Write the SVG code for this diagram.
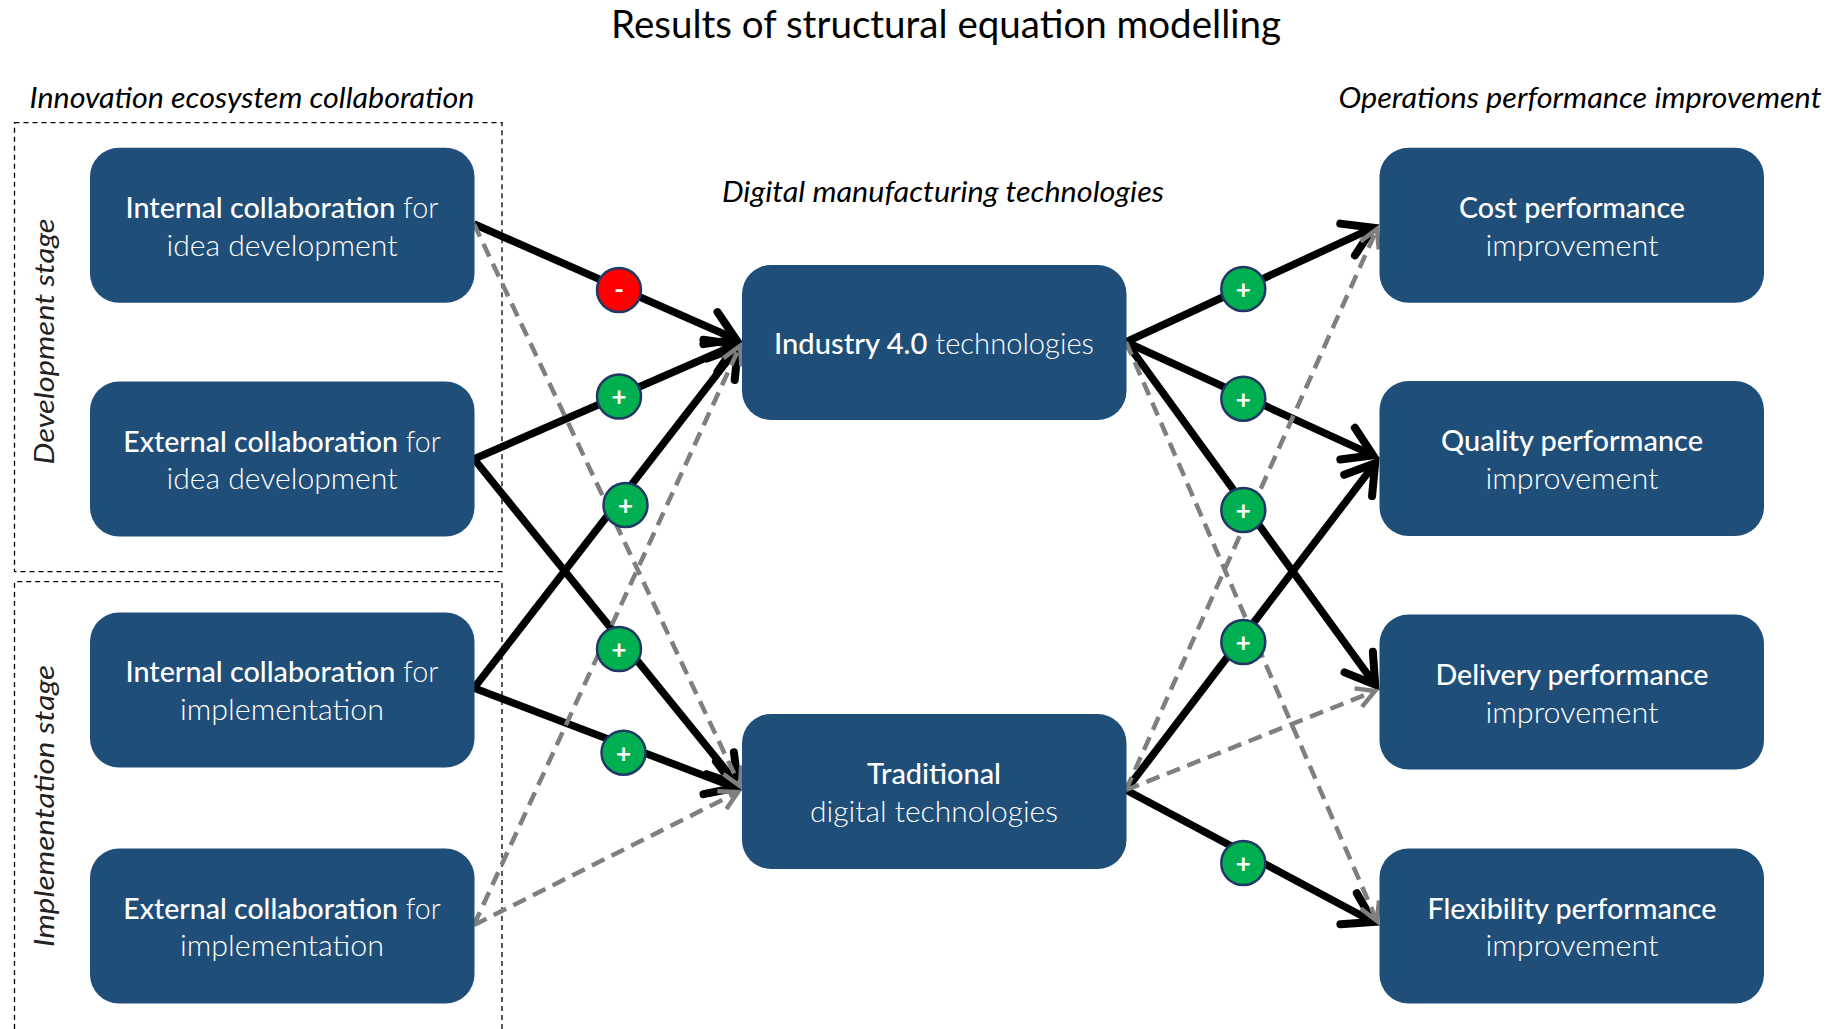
<svg xmlns="http://www.w3.org/2000/svg" width="1835" height="1029" viewBox="0 0 1835 1029">
<style>
text{font-family:Lato,"Liberation Sans",sans-serif}
.box{fill:#1f4e79}
.t{font-size:29px;fill:#fff;text-anchor:middle;font-weight:300}
.e{font-size:28.5px}
.b{font-weight:500}
.h{font-size:29px;fill:#000;font-style:italic;text-anchor:middle}
.s{font-size:27px;fill:#222;font-style:italic;font-weight:400;text-anchor:middle}
.frame{fill:none;stroke:#000;stroke-width:1.3;stroke-dasharray:5 4}
.k{fill:none;stroke:#000;stroke-width:7.5}
.g{fill:none;stroke:#7f7f7f;stroke-width:4.5;stroke-dasharray:14 8}
.pos{fill:#00b050;stroke:#1f3864;stroke-width:2.5}
.neg{fill:#f00;stroke:#1f3864;stroke-width:2.5}
.sym{fill:#fff;font-size:26px;font-weight:700;text-anchor:middle}
</style>
<defs>
<marker id="ak" markerUnits="userSpaceOnUse" markerWidth="60" markerHeight="60" refX="-1.5" refY="30" viewBox="-40 0 60 60" orient="auto" overflow="visible"><path d="M-28,12.5 L0,30 L-28,47.5" fill="none" stroke="#000" stroke-width="8" stroke-linecap="round"/></marker>
<marker id="ag" markerUnits="userSpaceOnUse" markerWidth="40" markerHeight="40" refX="0" refY="20" viewBox="-30 0 40 40" orient="auto" overflow="visible"><path d="M-18,10 L0,20 L-18,30" fill="none" stroke="#7f7f7f" stroke-width="4.5"/></marker>
</defs>
<rect width="1835" height="1029" fill="#fff"/>
<text x="946" y="38" style="font-size:38px;fill:#000;text-anchor:middle" textLength="670" lengthAdjust="spacingAndGlyphs">Results of structural equation modelling</text>
<text class="h" x="252" y="108" textLength="445" lengthAdjust="spacingAndGlyphs">Innovation ecosystem collaboration</text>
<text class="h" x="943" y="202" textLength="442" lengthAdjust="spacingAndGlyphs">Digital manufacturing technologies</text>
<text class="h" x="1580" y="108" textLength="483" lengthAdjust="spacingAndGlyphs">Operations performance improvement</text>
<g id="stage-development"><rect class="frame" x="14.5" y="122.7" width="487.5" height="449"/><text class="s" transform="translate(54 341.5) rotate(-90)" textLength="246" lengthAdjust="spacingAndGlyphs">Development stage</text></g>
<g id="stage-implementation"><path class="frame" d="M14.5,1029V581.7H502V1029"/><text class="s" transform="translate(54 806) rotate(-90)" textLength="282" lengthAdjust="spacingAndGlyphs">Implementation stage</text></g>
<g id="connectors">
<path class="k" d="M474,224L734.7,338.8" marker-end="url(#ak)"/>
<path class="k" d="M474,459L734.7,345.2" marker-end="url(#ak)"/>
<path class="k" d="M474,688L737.1,348.3" marker-end="url(#ak)"/>
<path class="k" d="M474,459L737,783.8" marker-end="url(#ak)"/>
<path class="k" d="M474,688L734.5,787.2" marker-end="url(#ak)"/>
<path class="k" d="M1126,342L1371.7,228.4" marker-end="url(#ak)"/>
<path class="k" d="M1126,342L1371.7,454.7" marker-end="url(#ak)"/>
<path class="k" d="M1126,342L1374.3,683.5" marker-end="url(#ak)"/>
<path class="k" d="M1126,790L1374.2,464.4" marker-end="url(#ak)"/>
<path class="k" d="M1126,790L1372,921.2" marker-end="url(#ak)"/>
<path class="g" d="M474,224L740,786" marker-end="url(#ag)"/>
<path class="g" d="M474,925L740,346" marker-end="url(#ag)"/>
<path class="g" d="M474,925L738,792" marker-end="url(#ag)"/>
<path class="g" d="M1126,342L1377,921" marker-end="url(#ag)"/>
<path class="g" d="M1126,790L1377,229" marker-end="url(#ag)"/>
<path class="g" d="M1126,790L1375,691" marker-end="url(#ag)"/>
</g>
<g id="n-internal-idea"><rect class="box" x="90" y="147.7" width="384.5" height="155" rx="29"/><text class="t" x="282" y="218" textLength="313" lengthAdjust="spacingAndGlyphs"><tspan class="b">Internal collaboration</tspan> for</text><text class="t" x="282" y="256" textLength="231" lengthAdjust="spacingAndGlyphs">idea development</text></g>
<g id="n-external-idea"><rect class="box" x="90" y="381.5" width="384.5" height="155" rx="29"/><text class="t e" x="282" y="452"><tspan class="b">External collaboration</tspan> for</text><text class="t" x="282" y="489" textLength="231" lengthAdjust="spacingAndGlyphs">idea development</text></g>
<g id="n-internal-impl"><rect class="box" x="90" y="612.5" width="384.5" height="155" rx="29"/><text class="t" x="282" y="682" textLength="313" lengthAdjust="spacingAndGlyphs"><tspan class="b">Internal collaboration</tspan> for</text><text class="t" x="282" y="720" textLength="204" lengthAdjust="spacingAndGlyphs">implementation</text></g>
<g id="n-external-impl"><rect class="box" x="90" y="848.5" width="384.5" height="155" rx="29"/><text class="t e" x="282" y="919"><tspan class="b">External collaboration</tspan> for</text><text class="t" x="282" y="956" textLength="204" lengthAdjust="spacingAndGlyphs">implementation</text></g>
<g id="n-industry40"><rect class="box" x="742" y="265" width="384.5" height="155" rx="29"/><text class="t" x="934" y="354" textLength="320" lengthAdjust="spacingAndGlyphs"><tspan class="b">Industry 4.0</tspan> technologies</text></g>
<g id="n-traditional"><rect class="box" x="742" y="714" width="384.5" height="155" rx="29"/><text class="t b" x="934" y="784" textLength="134" lengthAdjust="spacingAndGlyphs">Traditional</text><text class="t" x="934" y="822" textLength="248" lengthAdjust="spacingAndGlyphs">digital technologies</text></g>
<g id="n-cost"><rect class="box" x="1379.5" y="147.7" width="384.5" height="155" rx="29"/><text class="t b" x="1572" y="218" textLength="226" lengthAdjust="spacingAndGlyphs">Cost performance</text><text class="t" x="1572" y="256" textLength="173" lengthAdjust="spacingAndGlyphs">improvement</text></g>
<g id="n-quality"><rect class="box" x="1379.5" y="381" width="384.5" height="155" rx="29"/><text class="t b" x="1572" y="451" textLength="262" lengthAdjust="spacingAndGlyphs">Quality performance</text><text class="t" x="1572" y="489" textLength="173" lengthAdjust="spacingAndGlyphs">improvement</text></g>
<g id="n-delivery"><rect class="box" x="1379.5" y="614.5" width="384.5" height="155" rx="29"/><text class="t b" x="1572" y="685" textLength="273" lengthAdjust="spacingAndGlyphs">Delivery performance</text><text class="t" x="1572" y="723" textLength="173" lengthAdjust="spacingAndGlyphs">improvement</text></g>
<g id="n-flexibility"><rect class="box" x="1379.5" y="848.5" width="384.5" height="155" rx="29"/><text class="t b" x="1572" y="919" textLength="289" lengthAdjust="spacingAndGlyphs">Flexibility performance</text><text class="t" x="1572" y="956" textLength="173" lengthAdjust="spacingAndGlyphs">improvement</text></g>
<g id="sign-1"><circle class="neg" cx="619" cy="290" r="22"/><text class="sym" x="619" y="299">-</text></g>
<g id="sign-2"><circle class="pos" cx="619" cy="396.5" r="22"/><text class="sym" x="619" y="406">+</text></g>
<g id="sign-3"><circle class="pos" cx="625.5" cy="505" r="22"/><text class="sym" x="625.5" y="515">+</text></g>
<g id="sign-4"><circle class="pos" cx="619" cy="649" r="22"/><text class="sym" x="619" y="659">+</text></g>
<g id="sign-5"><circle class="pos" cx="623.5" cy="752.7" r="22"/><text class="sym" x="623.5" y="763">+</text></g>
<g id="sign-6"><circle class="pos" cx="1243.3" cy="289" r="22"/><text class="sym" x="1243.3" y="299">+</text></g>
<g id="sign-7"><circle class="pos" cx="1243.3" cy="398.7" r="22"/><text class="sym" x="1243.3" y="409">+</text></g>
<g id="sign-8"><circle class="pos" cx="1243.3" cy="510" r="22"/><text class="sym" x="1243.3" y="520">+</text></g>
<g id="sign-9"><circle class="pos" cx="1243.3" cy="642" r="22"/><text class="sym" x="1243.3" y="652">+</text></g>
<g id="sign-10"><circle class="pos" cx="1243.3" cy="863" r="22"/><text class="sym" x="1243.3" y="873">+</text></g>
</svg>
